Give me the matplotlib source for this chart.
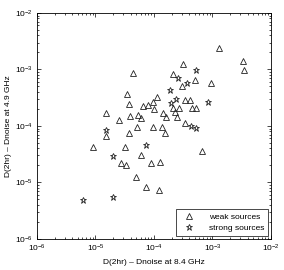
import matplotlib
matplotlib.use("Agg")
import matplotlib.pyplot as plt
from matplotlib.ticker import LogLocator, NullFormatter

# weak sources
weak_x = [4.37e-5, 3.47e-5, 3.72e-5, 1.51e-5, 2.51e-5, 3.89e-5, 5.37e-5, 6.03e-5,
          6.46e-5, 5.13e-5, 3.72e-5, 1.51e-5, 9.12e-6, 3.16e-5, 6.03e-5, 2.75e-5,
          3.31e-5, 4.90e-5, 1.29e-3, 3.31e-3, 3.47e-3, 3.16e-4, 2.09e-4, 5.01e-4,
          9.33e-4, 3.02e-4, 1.12e-4, 9.55e-5, 7.94e-5, 3.39e-4, 4.17e-4, 1.0e-4,
          2.09e-4, 2.69e-4, 4.47e-4, 5.25e-4, 1.41e-4, 2.29e-4, 1.58e-4, 2.45e-4,
          9.55e-5, 1.38e-4, 3.39e-4, 1.55e-4, 8.91e-5, 1.26e-4, 6.61e-4, 7.24e-5,
          1.23e-4]
weak_y = [8.71e-4, 3.72e-4, 2.45e-4, 1.70e-4, 1.29e-4, 1.51e-4, 1.55e-4, 1.38e-4,
          2.24e-4, 9.55e-5, 7.59e-5, 6.61e-5, 4.27e-5, 4.27e-5, 3.09e-5, 2.24e-5,
          2.04e-5, 1.26e-5, 2.40e-3, 1.41e-3, 9.77e-4, 1.26e-3, 8.32e-4, 6.46e-4,
          5.75e-4, 5.13e-4, 3.24e-4, 2.63e-4, 2.34e-4, 2.88e-4, 2.88e-4, 2.0e-4,
          2.09e-4, 2.09e-4, 2.09e-4, 2.09e-4, 1.70e-4, 1.78e-4, 1.45e-4, 1.45e-4,
          9.55e-5, 9.55e-5, 1.12e-4, 7.59e-5, 2.24e-5, 2.29e-5, 3.63e-5, 8.32e-6,
          7.41e-6]

# strong sources
strong_x = [1.51e-5, 2.0e-5, 6.17e-6, 2.0e-5, 5.25e-4, 2.57e-4, 3.63e-4, 1.86e-4,
            2.40e-4, 1.95e-4, 8.32e-4, 4.27e-4, 5.25e-4, 7.24e-5]
strong_y = [8.51e-5, 2.95e-5, 4.90e-6, 5.50e-6, 9.77e-4, 7.08e-4, 5.75e-4, 4.37e-4,
            3.02e-4, 2.57e-4, 2.63e-4, 1.0e-4, 9.12e-5, 4.57e-5]

plt.rcParams["font.family"] = ["Liberation Sans", "DejaVu Sans"]
plt.rcParams["font.size"] = 6

fig = plt.figure(figsize=(2.84, 2.70), dpi=100)
ax = fig.add_axes([0.130, 0.115, 0.824, 0.837])

ax.plot(weak_x, weak_y, linestyle="none", marker="^", markersize=4.8,
        markerfacecolor="none", markeredgecolor="#222222", markeredgewidth=0.6,
        label="weak sources")
ax.plot(strong_x, strong_y, linestyle="none", marker="*", markersize=5,
        markerfacecolor="none", markeredgecolor="#222222", markeredgewidth=0.6,
        label="strong sources")

ax.set_xscale("log")
ax.set_yscale("log")
ax.set_xlim(1e-6, 1e-2)
ax.set_ylim(1e-6, 1e-2)
ax.set_xticks([1e-6, 1e-5, 1e-4, 1e-3, 1e-2])
ax.set_yticks([1e-6, 1e-5, 1e-4, 1e-3, 1e-2])
ax.xaxis.set_minor_locator(LogLocator(base=10, subs=range(2, 10)))
ax.yaxis.set_minor_locator(LogLocator(base=10, subs=range(2, 10)))
ax.xaxis.set_minor_formatter(NullFormatter())
ax.yaxis.set_minor_formatter(NullFormatter())

ax.tick_params(which="both", direction="in", top=True, right=True,
               width=0.5, labelsize=6, pad=3)
ax.tick_params(which="major", length=3)
ax.tick_params(which="minor", length=1.5)
for s in ax.spines.values():
    s.set_linewidth(0.6)

ax.set_xlabel("D(2hr) \u2013 Dnoise at 8.4 GHz", fontsize=6, labelpad=3.5)
ax.set_ylabel("D(2hr) \u2013 Dnoise at 4.9 GHz", fontsize=6, labelpad=2)

leg = ax.legend(loc="lower right", fontsize=6, fancybox=False, framealpha=1,
                edgecolor="black", borderpad=0.5, handletextpad=1.4,
                borderaxespad=0.3, labelspacing=0.4)
leg.get_frame().set_linewidth(0.5)

plt.savefig("out.png", dpi=100)
